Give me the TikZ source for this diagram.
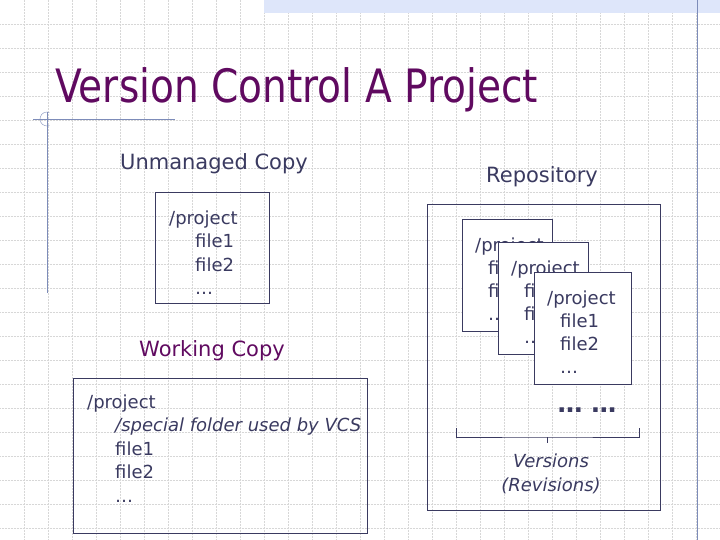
\documentclass[tikz,border=0pt]{standalone}
\usepackage{fontspec}
\setmainfont{DejaVu Sans}
\usetikzlibrary{positioning}
\definecolor{slidetext}{RGB}{58,58,96}
\definecolor{slidetitle}{RGB}{96,10,96}
\definecolor{slideline}{RGB}{125,140,185}
\definecolor{slideband}{RGB}{222,230,250}
\definecolor{slidegrid}{RGB}{215,215,215}
\tikzset{
  gridline/.style={slidegrid, densely dotted, line width=0.5pt},
  folder/.style={draw=slidetext, line width=0.8pt, inner sep=0pt, anchor=north west},
  stackbox/.style={folder, fill=white},
  listing/.style={slidetext, align=left, anchor=base west, inner sep=0pt,
    font={\fontsize{18}{23.5}\selectfont}},
  heading/.style={slidetext, anchor=base, inner sep=0pt,
    font={\fontsize{21}{25}\selectfont}},
}
\begin{document}
\begin{tikzpicture}[x=1pt,y=-1pt]
  \useasboundingbox (0,0) rectangle (720,540);
  % slide background
  \foreach \g in {24,48,...,696} \draw[gridline] (\g,0) -- (\g,540);
  \foreach \g in {24,48,...,528} \draw[gridline] (0,\g) -- (720,\g);
  \fill[slideband] (264,0) rectangle (720,13);
  \draw[slideline] (697,0) -- (697,540);
  \draw[slideline] (33,119) -- (175,119) (47,112) -- (47,293);
  \draw[slideline] (47,119) ++(70:7pt) arc[start angle=70, end angle=290, radius=7pt];

  \node[anchor=base west, inner sep=0pt, slidetitle] (title) at (55,103)
    {\scalebox{0.85}[1]{\fontsize{46}{50}\selectfont Version Control A Project}};

  % unmanaged copy (listings sit on the baseline of their last line)
  \node[heading] (unmanagedlabel) at (214,170) {Unmanaged Copy};
  \node[folder, minimum width=114pt, minimum height=111pt] (unmanaged) at (155,192) {};
  \node[listing] (unmanagedfiles) at ([xshift=14pt,yshift=-102.5pt]unmanaged.north west)
    {/project\\\hspace*{26pt}file1\\\hspace*{26pt}file2\\\hspace*{26pt}…};

  % working copy
  \node[heading, slidetitle] (workinglabel) at (212,356) {Working Copy};
  \node[folder, minimum width=294pt, minimum height=155pt] (working) at (73,378) {};
  \node[listing] (workingfiles) at ([xshift=14pt,yshift=-124pt]working.north west)
    {/project\\\hspace*{28pt}\textit{/special folder used by VCS}\\\hspace*{28pt}file1\\
     \hspace*{28pt}file2\\\hspace*{28pt}…};

  % repository
  \node[heading] (repolabel) at (542,183) {Repository};
  \node[folder, minimum width=233pt, minimum height=306pt] (repo) at (427,204) {};
  \foreach \n/\px/\py/\w in {1/462/219/90, 2/498/242/90, 3/534/272/97} {
    \node[stackbox, minimum width=\w pt, minimum height=112pt] (rev\n) at (\px,\py) {};
    \node[listing, font={\fontsize{18}{22.7}\selectfont}] (revfiles\n)
      at ([xshift=13pt,yshift=-101pt]rev\n.north west)
      {/project\\\hspace*{13pt}file1\\\hspace*{13pt}file2\\\hspace*{13pt}…};
  }
  \node[slidetext, anchor=base, inner sep=0pt, font={\bfseries\fontsize{25}{25}\selectfont}]
    (moredots) at (587,412) {… …};

  \coordinate (bracketleft) at (456,428);
  \coordinate (bracketmid) at (547,437);
  \coordinate (bracketright) at (639,428);
  \draw[slidetext, line width=0.8pt] (bracketleft) |- (bracketmid) -| (bracketright);
  \draw[slidetext, line width=0.8pt] (bracketmid) -- ++(0,6);
  \node[slidetext, align=center, anchor=base, inner sep=0pt,
    font={\itshape\fontsize{18}{24}\selectfont}] (versions) at (551,491)
    {Versions\\(Revisions)};
\end{tikzpicture}
\end{document}
